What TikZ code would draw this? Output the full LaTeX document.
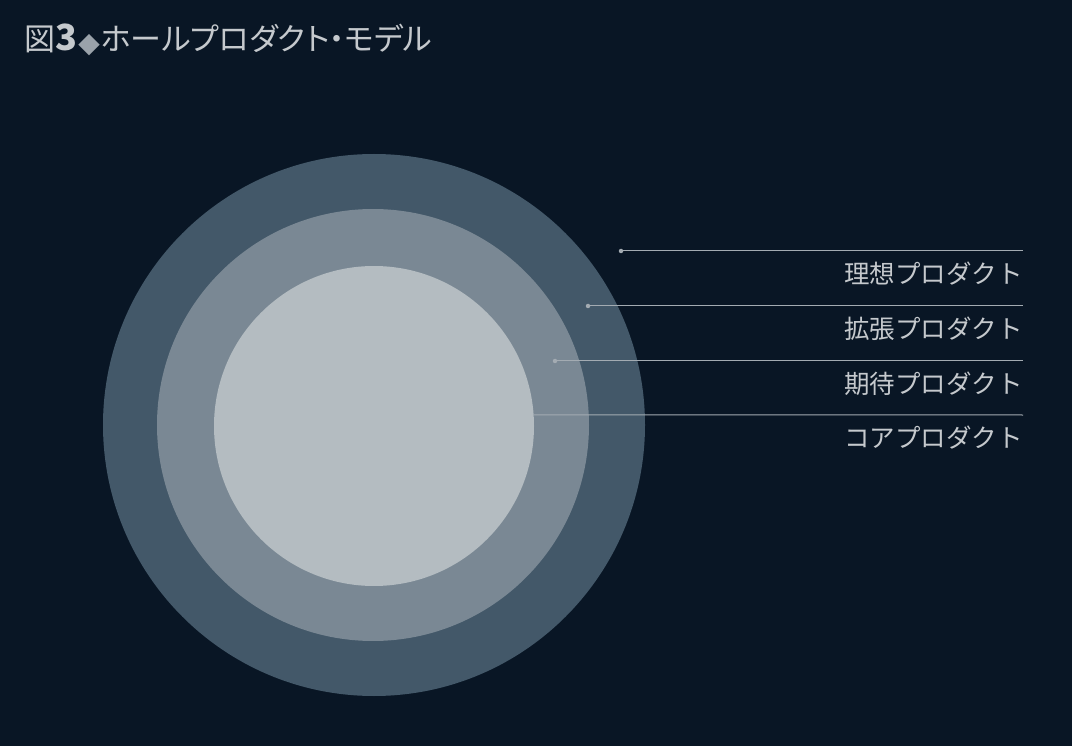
\documentclass[tikz,border=0pt]{standalone}
\usepackage{fontspec}
\setmainfont{Noto Sans CJK JP}
\newfontfamily\jp{Noto Sans CJK JP}
\newfontfamily\jpt[RawFeature=+palt]{Noto Sans CJK JP}
\definecolor{bg}{HTML}{091625}
\definecolor{ringA}{HTML}{435869}
\definecolor{ringB}{HTML}{7A8894}
\definecolor{ringC}{HTML}{B4BCC1}
\definecolor{txt}{HTML}{C5C9CD}
\definecolor{lin}{HTML}{A3ABB2}
\definecolor{dia}{HTML}{9AA2AA}
\tikzset{
  ring/.style={circle, draw=none, inner sep=0pt},
  leader/.style={draw=lin, line width=1pt},
  dotmark/.style={circle, fill=lin, inner sep=0pt, minimum size=4.5pt},
  lbl/.style={anchor=east, text=txt, inner sep=0pt, font=\jp\fontsize{25.5}{25.5}\selectfont},
  ttl/.style={anchor=west, text=txt, inner sep=0pt, font=\jpt\fontsize{31}{31}\selectfont}
}
\begin{document}
\begin{tikzpicture}[x=1pt,y=-1pt]
\fill[bg] (0,0) rectangle (1072,746);
\useasboundingbox (0,0) rectangle (1072,746);
% title
\node[ttl] (title) at (24,40) {図{\bfseries\fontsize{36}{36}\selectfont 3}{\kern1pt\color{dia}\fontsize{22}{22}\selectfont\raisebox{-3pt}{◆}\kern1pt}ホールプロダクト・モデル};
% circles
\node[ring, fill=ringA, minimum size=542pt] (outer) at (374,425) {};
\node[ring, fill=ringB, minimum size=432pt] (middle) at (373,425) {};
\node[ring, fill=ringC, minimum size=320pt] (core) at (374,426) {};
% leader points
\node[dotmark] (d1) at (621,251) {};
\node[dotmark] (d2) at (588,306) {};
\node[dotmark] (d3) at (555,361) {};
\coordinate (e1) at (1023,251);
\coordinate (e2) at (1023,306);
\coordinate (e3) at (1023,361);
\coordinate (e4) at (1023,415);
\draw[leader] (d1.center) -- (e1);
\draw[leader] (d2.center) -- (e2);
\draw[leader] (d3.center) -- (e3);
\draw[leader] (core.4) -- (e4);
% labels
\node[lbl] (l1) at (1023,274) {理想プロダクト};
\node[lbl] (l2) at (1023,329) {拡張プロダクト};
\node[lbl] (l3) at (1023,384) {期待プロダクト};
\node[lbl] (l4) at (1023,438) {コアプロダクト};
\end{tikzpicture}
\end{document}
